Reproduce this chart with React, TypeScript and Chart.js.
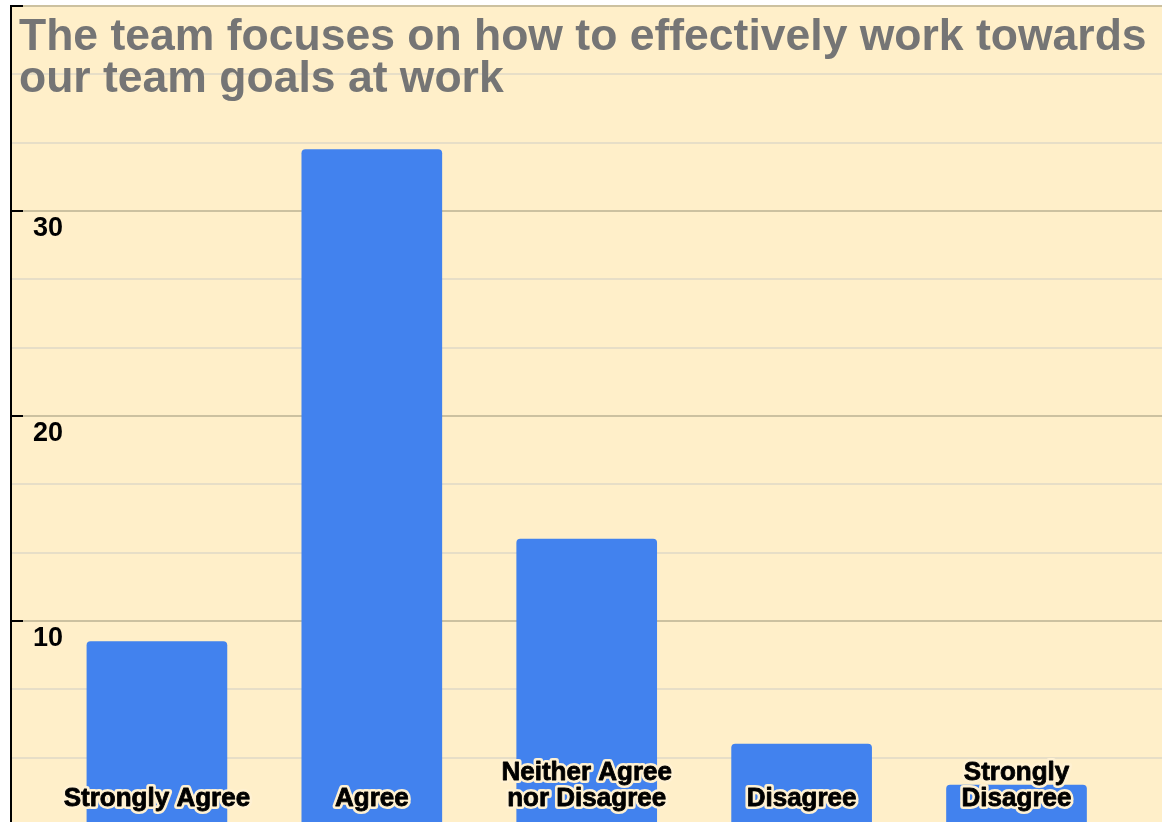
import React, { useEffect, useRef } from "react";
import { Chart, registerables } from "chart.js";

Chart.register(...registerables);

// ---- data ----
const TITLE_LINES: string[] = [
  "The team focuses on how to effectively work towards",
  "our team goals at work",
];
const CATEGORIES: string[][] = [
  ["Strongly Agree"],
  ["Agree"],
  ["Neither Agree", "nor Disagree"],
  ["Disagree"],
  ["Strongly", "Disagree"],
];
const COUNTS: number[] = [9, 33, 14, 4, 2];
const Y_LABELED: number[] = [10, 20, 30];
const Y_MIN = 0;
const Y_MAX = 40;
const Y_MAJOR_STEP = 10;
const Y_MINOR_PER_MAJOR = 3;

const CANVAS_W = 1168;
const CANVAS_H = 860;

const CREAM = "#FFEFC9";
const BAR = "#4282EE";

const isMajor = (v: number) =>
  Math.abs(v / Y_MAJOR_STEP - Math.round(v / Y_MAJOR_STEP)) < 1e-6;

const zeroPad = (s: any) => {
  s.paddingTop = 0;
  s.paddingBottom = 0;
  s.paddingLeft = 0;
  s.paddingRight = 0;
};

export default function App() {
  const ref = useRef<HTMLCanvasElement | null>(null);

  useEffect(() => {
    if (!ref.current) return;

    const bgPlugin = {
      id: "bg",
      beforeDraw(chart: any) {
        const { ctx, chartArea } = chart;
        ctx.save();
        ctx.fillStyle = CREAM;
        ctx.fillRect(
          chartArea.left,
          chartArea.top - 1,
          chartArea.right - chartArea.left,
          chartArea.bottom - chartArea.top + 1
        );
        ctx.restore();
      },
    };

    const overlayPlugin = {
      id: "overlay",
      afterDatasetsDraw(chart: any) {
        const { ctx, chartArea } = chart;
        const xs = chart.scales.x;
        const ys = chart.scales.y;
        ctx.save();
        // inward major tick marks
        ctx.strokeStyle = "#000";
        ctx.lineWidth = 2;
        for (const t of ys.ticks) {
          if (!isMajor(t.value)) continue;
          const py = Math.round(ys.getPixelForValue(t.value));
          ctx.beginPath();
          ctx.moveTo(chartArea.left - 1, py);
          ctx.lineTo(chartArea.left + 12, py);
          ctx.stroke();
        }
        // category labels
        ctx.font = 'bold 26px "Liberation Sans", Arial, sans-serif';
        ctx.textAlign = "center";
        ctx.textBaseline = "alphabetic";
        ctx.lineJoin = "round";
        const baseY = ys.getPixelForValue(0) - 20;
        CATEGORIES.forEach((lines, i) => {
          const cx = xs.getPixelForValue(i);
          lines.forEach((s, j) => {
            const ly = baseY - (lines.length - 1 - j) * 26;
            ctx.strokeStyle = "#FFF1D2";
            ctx.lineWidth = 6;
            ctx.strokeText(s, cx, ly);
            ctx.fillStyle = "#000";
            ctx.fillText(s, cx, ly);
            ctx.strokeStyle = "#000";
            ctx.lineWidth = 0.8;
            ctx.strokeText(s, cx, ly);
          });
        });
        // title
        ctx.font = 'bold 44.5px "Liberation Sans", Arial, sans-serif';
        ctx.textAlign = "left";
        ctx.fillStyle = "#757575";
        TITLE_LINES.forEach((s, j) => {
          ctx.fillText(s, 19, 50 + j * 42);
        });
        ctx.restore();
      },
    };

    const chart = new Chart(ref.current, {
      type: "bar",
      data: {
        datasets: [
          {
            data: COUNTS.map((v, i) => ({ x: i, y: v })),
            backgroundColor: BAR,
            borderWidth: 0,
            borderRadius: { topLeft: 4, topRight: 4, bottomLeft: 0, bottomRight: 0 },
            borderSkipped: "bottom",
            barThickness: 140,
          },
        ],
      },
      options: {
        animation: false,
        responsive: false,
        devicePixelRatio: 1,
        layout: {
          autoPadding: false,
          padding: { left: 11, right: 6, top: 6, bottom: CANVAS_H - 826 },
        },
        plugins: {
          legend: { display: false },
          title: { display: false },
          tooltip: { enabled: false },
        },
        scales: {
          x: {
            type: "linear",
            display: false,
            offset: false,
            min: -0.679,
            max: 4.677,
            afterFit: (s: any) => {
              s.height = 0;
              zeroPad(s);
            },
          },
          y: {
            min: Y_MIN,
            max: Y_MAX,
            afterFit: (s: any) => {
              s.width = 0;
              zeroPad(s);
            },
            ticks: {
              stepSize: Y_MAJOR_STEP / Y_MINOR_PER_MAJOR,
              autoSkip: false,
              mirror: true,
              padding: 22,
              labelOffset: 18,
              color: "#000",
              font: { family: '"Liberation Sans", Arial, sans-serif', weight: "bold", size: 27 },
              callback: (v: any) => {
                const r = Math.round(Number(v));
                return Math.abs(Number(v) - r) < 1e-6 && Y_LABELED.includes(r) ? String(r) : "";
              },
            },
            grid: {
              drawTicks: false,
              lineWidth: 2,
              color: (c: any) => (isMajor(c.tick.value) ? "#CCC1A0" : "#E7DEC7"),
            },
            border: { display: true, color: "#000", width: 2 },
          },
        },
      },
      plugins: [bgPlugin, overlayPlugin],
    } as any);

    return () => chart.destroy();
  }, []);

  return (
    <div
      style={{
        position: "absolute",
        left: 0,
        top: 0,
        width: CANVAS_W,
        height: 822,
        overflow: "hidden",
      }}
    >
      <canvas
        ref={ref}
        width={CANVAS_W}
        height={CANVAS_H}
        style={{ display: "block", width: CANVAS_W, height: CANVAS_H }}
      />
    </div>
  );
}
